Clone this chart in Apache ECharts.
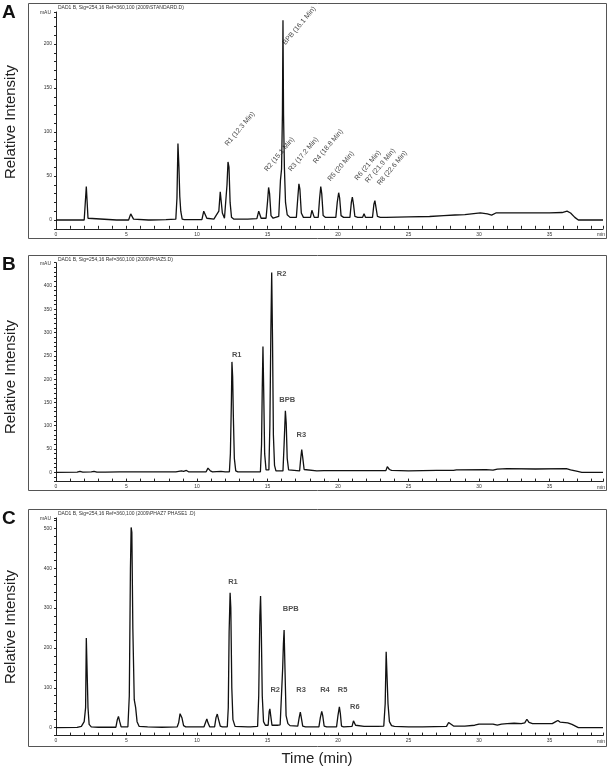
<!DOCTYPE html>
<html><head><meta charset="utf-8">
<script src="https://cdn.jsdelivr.net/npm/echarts@6/dist/echarts.min.js"></script>
<style>html,body{margin:0;padding:0;background:#fff}#c{width:608px;height:769px}</style>
</head><body><div id="c"></div>
<script>
// ---- data: [time (min), absorbance (mAU)] ----
const traceA = [[0,0],[2.0,0],[2.1,2],[2.15,38],[2.22,38],[2.27,2],[2.4,0],
[4.3,0],[4.35,1.5],[4.45,0],[5.15,0],[5.3,7],[5.38,8],[5.5,1],[5.6,0],[6.55,0],[6.6,1],[6.7,0],
[7.8,0.5],[8.5,1],[8.58,25],[8.65,87],[8.72,60],[8.78,27],[8.85,10],[8.95,1],[9.1,0.5],
[10.35,0.5],[10.48,10],[10.55,11],[10.7,2],[10.8,0.5],
[11.2,1],[11.35,5],[11.45,3],[11.55,10],[11.65,32],[11.72,30],[11.8,8],[11.95,2],
[12.05,3],[12.13,40],[12.2,66],[12.27,60],[12.35,20],[12.45,3],[12.6,1],
[13.4,1],[13.5,2],[13.6,1],[14.25,1.5],[14.38,10],[14.45,8],[14.55,2],
[14.9,2],[15.0,20],[15.08,37],[15.15,30],[15.25,5],[15.4,2],
[15.8,4],[15.92,45],[16.0,58],[16.06,120],[16.1,227],[16.14,120],[16.2,60],[16.28,20],[16.4,6],[16.6,3],
[17.05,3],[17.15,25],[17.23,41],[17.3,35],[17.4,8],[17.55,3],
[18.05,3],[18.15,11],[18.22,10],[18.32,3],
[18.6,3],[18.7,25],[18.78,38],[18.85,30],[18.95,5],[19.1,3],
[19.85,3],[19.95,20],[20.05,31],[20.12,25],[20.22,5],[20.4,3],
[20.85,3],[20.95,20],[21.02,26],[21.1,18],[21.2,4],[21.4,3],
[21.75,3],[21.85,7],[21.95,3],
[22.45,3],[22.55,18],[22.62,22],[22.7,14],[22.8,4],[23.0,3],
[23.25,3],[23.32,4],[23.42,3],
[25,3.5],[26.5,4],[27.5,5],[28.3,5.7],[29,6],[30.1,8],[30.6,7],[30.9,5.5],[31.2,8],[32,8],[33,8],[34,8],[35,8],[35.9,8.5],[36.25,10],[36.5,8],[36.8,3],[37.05,0],[38.8,0]];

const traceB = [[0,0],[1.5,0.5],[1.7,2],[1.9,0.5],[2.5,1],[2.7,2],[2.9,0.5],[3.5,0.5],[4.5,1],[5.6,1],[5.7,3],[5.8,1],[7,1],[8.5,1],[8.9,3],[9.05,2],[9.25,4],[9.4,1],
[10.65,1],[10.78,9],[10.85,11],[10.95,3],[11.1,1],[11.7,2],[12.0,1],[12.3,1],
[12.37,40],[12.44,150],[12.48,237],[12.53,205],[12.58,120],[12.65,30],[12.75,3],[12.9,1],
[14.5,1],[14.58,60],[14.63,180],[14.68,270],[14.73,180],[14.8,40],[14.9,5],[15.0,4],[15.1,5],
[15.17,100],[15.24,300],[15.3,429],[15.36,280],[15.42,80],[15.5,15],[15.6,3],
[16.1,3],[16.18,60],[16.27,132],[16.33,105],[16.4,30],[16.5,5],[16.6,3],
[17.28,3],[17.36,30],[17.43,49],[17.5,32],[17.6,6],[17.7,3],
[18.5,3],[19,3.5],[20,3.6],[22,3.6],[23.4,3.6],[23.5,12],[23.56,13],[23.65,6],[23.8,4],[25,3],[27,4],[28.2,4],[28.4,5],[30.5,5.5],[31.0,4.5],[31.3,7],[32,7.7],[34,7],[36.2,7.7],[36.5,5],[37.0,2],[37.3,0],[38.8,0]];

const traceC = [[0,0],[1.5,0.5],[1.8,3],[2.0,15],[2.1,50],[2.15,225],[2.22,225],[2.27,50],[2.35,8],[2.5,2],[3,1],
[4.25,1],[4.35,20],[4.43,28],[4.52,15],[4.62,2],
[5.1,2],[5.2,80],[5.28,400],[5.33,502],[5.38,490],[5.45,250],[5.55,70],[5.65,50],[5.75,15],[5.9,3],[6.5,2],[7.5,1],
[8.6,2],[8.7,12],[8.8,35],[8.87,39],[8.93,25],[9.05,5],[9.2,2],
[10.5,2],[10.6,12],[10.7,22],[10.78,12],[10.9,2],
[11.25,2],[11.35,25],[11.44,34],[11.52,22],[11.65,4],[11.8,2],
[12.15,2],[12.22,50],[12.28,240],[12.35,338],[12.4,300],[12.47,100],[12.55,20],[12.7,3],
[13.6,2],[13.7,4],[13.8,2],
[14.3,3],[14.38,80],[14.46,280],[14.51,330],[14.56,250],[14.63,80],[14.72,15],[14.85,6],
[15.05,6],[15.12,40],[15.17,47],[15.23,30],[15.32,6],
[15.7,6],[15.8,10],[15.9,7],
[16.02,10],[16.08,150],[16.13,210],[16.18,245],[16.24,150],[16.32,30],[16.45,10],[16.6,5],
[17.15,4],[17.25,25],[17.33,39],[17.4,25],[17.5,4],[17.7,2],
[18.65,2],[18.75,25],[18.85,41],[18.92,30],[19.02,4],[19.2,2],
[19.9,2],[20.0,30],[20.1,52],[20.17,35],[20.25,4],[20.4,2],
[21.0,3],[21.1,17],[21.17,19],[21.25,6],[21.35,3],
[21.85,3],[21.96,8],[22.05,3],[22.2,3],[22.3,8],[22.38,3],[22.6,3],[22.73,8],[22.82,3],
[23.25,4],[23.35,60],[23.42,190],[23.48,185],[23.55,60],[23.65,15],[23.8,5],[24.0,3],
[25,2],[26,2],[27.7,3],[27.85,13],[27.95,16],[28.05,8],[28.2,4],[28.8,4],[28.9,7],[29,4],
[29.7,6],[30,9],[31,9],[31.3,6],[31.6,9],[32.0,10],[32.5,11],[33,10],[33.25,12],[33.4,21],[33.55,13],[33.8,10],[35.2,10],[35.45,15],[35.6,18],[35.75,14],[36.3,12],[36.6,8],[37.05,0],[38.8,0]];

// peak annotations: [label, time, mAU]
const peaksA = [['R1 (12.3 Min)',12.3,82],['BPB (16.1 Min)',16.4,197],['R2 (15.1 Min)',15.1,53],['R3 (17.2 Min)',16.8,53],
  ['R4 (18.8 Min)',18.56,62],['R5 (20 Min)',19.6,42],['R6 (21 Min)',21.5,43],['R7 (21.9 Min)',22.26,40],['R8 (22.6 Min)',23.1,37.5]];
const peaksB = [['R1',12.82,252],['R2',16.0,425],['BPB',16.4,155],['R3',17.4,80]];
const peaksC = [['R1',12.55,366],['BPB',16.65,298],['R2',15.55,95],['R3',17.38,95],['R4',19.08,95],['R5',20.33,95],['R6',21.2,51]];

const headers = ['DAD1 B, Sig=254,16 Ref=360,100 (2009\\STANDARD.D)',
                 'DAD1 B, Sig=254,16 Ref=360,100 (2009\\PHAZ5.D)',
                 'DAD1 B, Sig=254,16 Ref=360,100 (2009\\PHAZ7 PHASE1 .D)'];
const panelLetters = ['A','B','C'];
const yRanges = [[-10,236.4,10,50],[-20,450,10,50],[-20,526,20,100]]; // min,max,tick step,label step
const xMax = 38.8;

const FONT = 'Liberation Sans, Arial, Helvetica, sans-serif';
const grids = [
  {left:56, width:547, top:12, height:216.8},
  {left:56, width:547, top:262.7, height:218.9},
  {left:56, width:547, top:517.9, height:217.7}
];
const frames = [[28,3,578,235],[28,255,578,235],[28,509,578,237]];

const xAxes = grids.map((g,i)=>({
  type:'value', gridIndex:i, min:0, max:xMax, interval:1,
  axisLine:{onZero:false, lineStyle:{color:'#222', width:1}},
  axisTick:{inside:true, length:3, lineStyle:{color:'#222'}},
  axisLabel:{fontSize:5, color:'#333', margin:3, fontFamily:FONT, formatter:v=> (Math.abs(v%5)<1e-9 ? String(v) : '')},
  splitLine:{show:false}
}));
const yAxes = grids.map((g,i)=>({
  type:'value', gridIndex:i, min:yRanges[i][0], max:yRanges[i][1], interval:yRanges[i][2],
  axisLine:{show:true, onZero:false, lineStyle:{color:'#222', width:1}},
  axisTick:{show:true, length:2, lineStyle:{color:'#222'}},
  axisLabel:{fontSize:5, color:'#333', margin:4, fontFamily:FONT,
    formatter:v=> (v>=0 && v<yRanges[i][1] && Math.abs(v%yRanges[i][3])<1e-9 ? String(v) : '')},
  splitLine:{show:false}
}));

const traces = [traceA, traceB, traceC];
const series = traces.map((d,i)=>({
  type:'line', xAxisIndex:i, yAxisIndex:i, data:d, symbol:'none', showSymbol:false,
  lineStyle:{color:'#111', width:1.3}, silent:true, animation:false
}));
series.push({
  type:'scatter', xAxisIndex:0, yAxisIndex:0, symbolSize:1, itemStyle:{color:'transparent'}, silent:true, animation:false,
  data: peaksA.map(p=>({name:p[0], value:[p[1],p[2]]})),
  label:{show:true, formatter:'{b}', position:[0,0], align:'left', verticalAlign:'bottom', rotate:50,
         fontSize:7, color:'#111', fontFamily:FONT}
});
[peaksB, peaksC].forEach((pk,k)=>{
  series.push({
    type:'scatter', xAxisIndex:k+1, yAxisIndex:k+1, symbolSize:1, itemStyle:{color:'transparent'}, silent:true, animation:false,
    data: pk.map(p=>({name:p[0], value:[p[1],p[2]]})),
    label:{show:true, formatter:'{b}', position:'inside', align:'center', verticalAlign:'middle',
           fontSize:7.5, fontWeight:'bold', color:'#222', fontFamily:FONT}
  });
});

const graphic = [];
frames.forEach((f,i)=>{
  graphic.push({type:'rect', silent:true, shape:{x:f[0]+0.5,y:f[1]+0.5,width:f[2],height:f[3]}, style:{fill:'none', stroke:'#555', lineWidth:1}});
  graphic.push({type:'text', silent:true, x:58, y:f[1]+2, style:{text:headers[i], fontSize:5, fill:'#333', fontFamily:FONT}});
  graphic.push({type:'text', silent:true, x:51, y:grids[i].top+1, style:{text:'mAU', fontSize:5, fill:'#333', fontFamily:FONT, align:'right', verticalAlign:'middle'}});
  graphic.push({type:'text', silent:true, x:601, y:grids[i].top+grids[i].height+6, style:{text:'min', fontSize:5, fill:'#333', fontFamily:FONT, align:'center', verticalAlign:'middle'}});
  graphic.push({type:'text', silent:true, x:2, y:f[1]+0, style:{text:panelLetters[i], fontSize:19, fontWeight:'bold', fill:'#111', fontFamily:FONT}});
});
const riCenters = [122, 377, 627];
riCenters.forEach(cy=>{
  graphic.push({type:'text', silent:true, x:11, y:cy, rotation:Math.PI/2,
    style:{text:'Relative Intensity', fontSize:15, fill:'#222', fontFamily:FONT, align:'center', verticalAlign:'middle'}});
});
graphic.push({type:'text', silent:true, x:317, y:759, style:{text:'Time (min)', fontSize:15, fill:'#222', fontFamily:FONT, align:'center', verticalAlign:'middle'}});

const chart = echarts.init(document.getElementById('c'), null, {renderer:'canvas'});
chart.setOption({
  animation:false,
  backgroundColor:'#fff',
  grid: grids,
  xAxis: xAxes,
  yAxis: yAxes,
  series: series,
  graphic: graphic
});
</script>
</body></html>
